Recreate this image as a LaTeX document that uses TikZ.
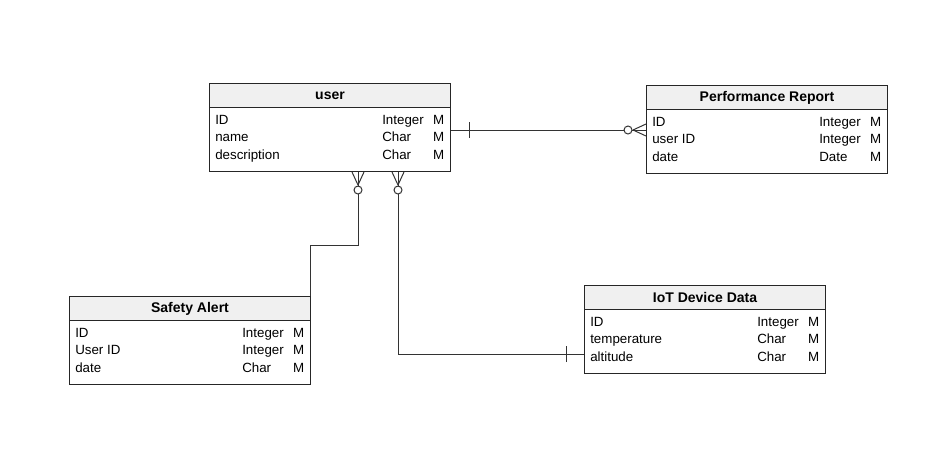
\documentclass[tikz,border=0pt]{standalone}
\usepackage{fontspec}
\setmainfont{Liberation Sans}
\usepackage{xcolor}
\usetikzlibrary{calc}

\definecolor{hdrgray}{HTML}{F0F0F0}
\newcommand{\attrline}[3]{\makebox[125.25pt][l]{#1}\makebox[37.5pt][l]{#2}\makebox[9pt][r]{#3}}

\tikzset{
  entity/.style={draw=black!85, line width=0.75pt, minimum width=180.75pt, minimum height=66pt, inner sep=0pt, anchor=north west},
  header/.style={draw=black!85, line width=0.75pt, fill=hdrgray, minimum width=180.75pt, minimum height=18pt, inner sep=0pt, anchor=north, font=\fontsize{10.5}{12}\selectfont\bfseries},
  attr/.style={anchor=base west, inner sep=0pt, font=\fontsize{10}{12}\selectfont},
  conn/.style={draw=black!80, line width=0.75pt},
  zeromany/.pic={
    \draw[conn] (0,-6) -- (13,0) (0,6) -- (13,0);
    \draw[conn, fill=white] (18,0) circle[radius=4];
  },
  onebar/.pic={\draw[conn] (18,-8) -- (18,8);}
}

\begin{document}
\begin{tikzpicture}[x=0.75pt, y=-0.75pt]
  \useasboundingbox (0,0) rectangle (944,450);

  % user
  \node[entity] (user) at (209,83) {};
  \node[header] (user-h) at (user.north) {user};
  \foreach \n/\t [count=\i] in {ID/Integer, name/Char, description/Char}
    \node[attr] (user-\i) at ($(user-h.south west)+(6,{16+17.5*(\i-1)})$) {\attrline{\n}{\t}{M}};

  % performance report
  \node[entity] (report) at (646,85) {};
  \node[header] (report-h) at (report.north) {Performance Report};
  \foreach \n/\t [count=\i] in {ID/Integer, user ID/Integer, date/Date}
    \node[attr] (report-\i) at ($(report-h.south west)+(6,{16+17.5*(\i-1)})$) {\attrline{\n}{\t}{M}};

  % safety alert
  \node[entity] (alert) at (69,296) {};
  \node[header] (alert-h) at (alert.north) {Safety Alert};
  \foreach \n/\t [count=\i] in {ID/Integer, User ID/Integer, date/Char}
    \node[attr] (alert-\i) at ($(alert-h.south west)+(6,{16+17.5*(\i-1)})$) {\attrline{\n}{\t}{M}};

  % iot device data
  \node[entity] (iot) at (584,285) {};
  \node[header] (iot-h) at (iot.north) {IoT Device Data};
  \foreach \n/\t [count=\i] in {ID/Integer, temperature/Char, altitude/Char}
    \node[attr] (iot-\i) at ($(iot-h.south west)+(6,{16+17.5*(\i-1)})$) {\attrline{\n}{\t}{M}};

  % connectors
  \coordinate (u-r) at ($(user.north east)+(0,47)$);
  \coordinate (r-l) at (report.west |- u-r);
  \draw[conn] (u-r) -- (r-l);
  \pic[rotate=0] at (u-r) {onebar};
  \pic[rotate=180] at (r-l) {zeromany};

  \coordinate (u-b1) at ($(user.south west)+(149,0)$);
  \coordinate (a-t) at ($(alert.north east)+(-1,0)$);
  \draw[conn] (u-b1) -- ++(0,73.5) -| (a-t);
  \pic[rotate=-90] at (u-b1) {zeromany};

  \coordinate (u-b2) at ($(user.south west)+(189,0)$);
  \coordinate (i-l) at ($(iot.north west)+(0,69)$);
  \draw[conn] (u-b2) |- (i-l);
  \pic[rotate=-90] at (u-b2) {zeromany};
  \pic[rotate=180] at (i-l) {onebar};
\end{tikzpicture}
\end{document}
